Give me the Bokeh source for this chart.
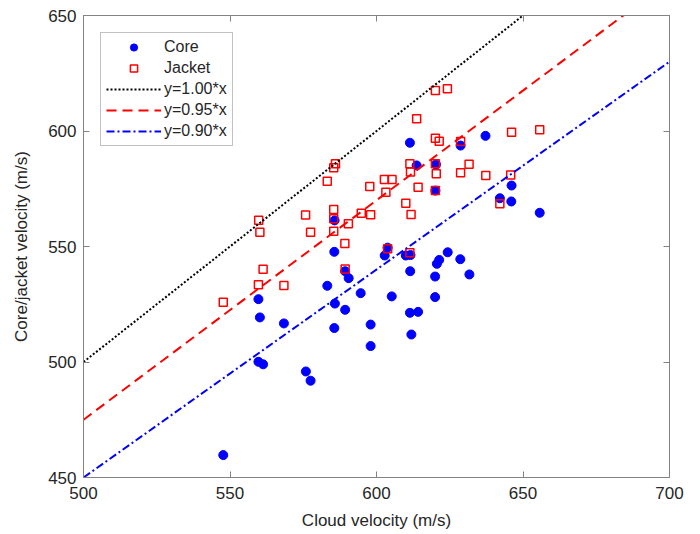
from bokeh.plotting import figure
from bokeh.models import LinearAxis, FixedTicker, Legend, LegendItem, Range1d, CustomJSTickFormatter
from bokeh.embed import file_html
from bokeh.resources import INLINE

# ---- data ----
core_x = [611.4, 613.7, 620.3, 620.1, 585.7, 585.6, 603.8, 602.8, 610.0, 611.6,
          624.3, 628.6, 621.4, 620.6, 611.5, 620.0, 620.0, 611.4, 614.2, 611.9,
          605.2, 594.6, 589.3, 585.8, 583.2, 589.3, 590.5, 585.6, 598.0, 598.0,
          575.9, 577.5, 559.7, 561.3, 568.4, 560.2, 559.7, 547.7, 637.2, 628.7,
          646.1, 642.1, 646.0, 655.7, 631.7]
core_y = [594.9, 585.1, 585.5, 574.2, 561.3, 547.7, 549.5, 546.1, 546.1, 546.3,
          547.5, 544.5, 544.2, 542.5, 539.3, 537.0, 528.1, 521.3, 521.7, 511.9,
          528.4, 529.8, 522.6, 525.3, 533.0, 539.3, 536.3, 514.7, 516.2, 506.9,
          495.9, 491.9, 500.1, 499.0, 516.7, 519.3, 527.2, 459.7, 597.9, 593.7,
          576.4, 570.9, 569.5, 564.6, 537.9]

jacket_x = [620.1, 624.2, 613.7, 620.1, 621.4, 628.7, 611.4, 611.6, 620.1, 620.4,
            620.1, 628.7, 586.0, 585.4, 583.2, 602.7, 605.3, 597.7, 603.2, 614.2,
            610.0, 611.8, 585.4, 585.4, 575.8, 594.8, 598.0, 590.4, 577.5, 585.4,
            589.2, 559.8, 560.2, 603.8, 611.4, 646.1, 655.7, 631.6, 637.3, 645.8,
            642.1, 589.3, 559.7, 561.3, 568.4, 547.7]
jacket_y = [617.5, 618.3, 605.3, 596.9, 595.6, 595.5, 585.8, 582.2, 585.8, 581.5,
            574.2, 581.9, 585.8, 584.1, 578.3, 579.0, 579.0, 576.0, 573.5, 575.7,
            568.7, 563.9, 566.0, 562.0, 563.6, 564.4, 563.7, 559.8, 556.2, 556.6,
            551.3, 561.4, 556.2, 549.0, 547.3, 599.5, 600.5, 585.6, 580.7, 581.0,
            568.5, 540.3, 533.4, 540.2, 533.1, 525.9]

ratios = [1.00, 0.95, 0.90]
ratio_labels = ["y=1.00*x", "y=0.95*x", "y=0.90*x"]
line_x = [500, 700]

x_ticks = [500, 550, 600, 650, 700]
y_ticks = [450, 500, 550, 600, 650]

FONT = "Liberation Sans"
AXIS_COLOR = "#838383"
TEXT_COLOR = "#262626"

p = figure(width=700, height=534,
           x_range=Range1d(500, 700), y_range=Range1d(450, 650),
           output_backend="svg", toolbar_location=None,
           min_border_left=83, min_border_right=31,
           min_border_top=15, min_border_bottom=57)
p.grid.visible = False
p.outline_line_color = AXIS_COLOR
p.outline_line_width = 1
p.background_fill_color = "white"
p.border_fill_color = "white"

def style_axis(ax, ticks, show_labels=True):
    ax.ticker = FixedTicker(ticks=ticks)
    ax.axis_line_color = AXIS_COLOR
    ax.axis_line_width = 1
    ax.major_tick_line_color = AXIS_COLOR
    ax.major_tick_in = 6
    ax.major_tick_out = 0
    ax.minor_tick_line_color = None
    ax.major_label_text_font = FONT
    ax.major_label_text_color = TEXT_COLOR
    ax.major_label_text_font_size = "17px"
    if not show_labels:
        ax.formatter = CustomJSTickFormatter(code="return '';")
        ax.major_label_standoff = 0

xa = p.xaxis[0]
ya = p.yaxis[0]
style_axis(xa, x_ticks)
style_axis(ya, y_ticks)
xa.major_label_standoff = 9
ya.major_label_standoff = 7
xa.axis_label = "Cloud velocity (m/s)"
ya.axis_label = "Core/jacket velocity (m/s)"
for ax in (xa, ya):
    ax.axis_label_text_font = FONT
    ax.axis_label_text_font_size = "17px"
    ax.axis_label_text_font_style = "normal"
    ax.axis_label_text_color = TEXT_COLOR
xa.axis_label_standoff = 9
ya.axis_label_standoff = 14

top_ax = LinearAxis()
right_ax = LinearAxis()
style_axis(top_ax, x_ticks, show_labels=False)
style_axis(right_ax, y_ticks, show_labels=False)
p.add_layout(top_ax, "above")
p.add_layout(right_ax, "right")

r_core = p.scatter(core_x, core_y, marker="circle", size=9,
                   fill_color="#0000ff", line_color="#0000ff")
r_jacket = p.scatter(jacket_x, jacket_y, marker="square", size=8,
                     fill_color=None, line_color="#ff0000", line_width=1.5)

line_styles = [("black", "2 2"), ("#ff0000", "10 6"), ("#0000ff", "8 3 2 3")]
line_renderers = []
for k, (col, dash) in zip(ratios, line_styles):
    r = p.line(line_x, [k * v for v in line_x], line_color=col,
               line_dash=dash, line_width=2)
    line_renderers.append(r)

items = [LegendItem(label="Core", renderers=[r_core]),
         LegendItem(label="Jacket", renderers=[r_jacket])]
for lab, r in zip(ratio_labels, line_renderers):
    items.append(LegendItem(label=lab, renderers=[r]))

legend = Legend(items=items, location="top_left", margin=17,
                glyph_width=55, glyph_height=18, label_height=18,
                spacing=3, padding=5, label_standoff=3,
                label_text_font=FONT, label_text_font_size="16px",
                label_text_color=TEXT_COLOR,
                border_line_color=AXIS_COLOR, border_line_width=1,
                background_fill_color="white", background_fill_alpha=1)
p.add_layout(legend)

open("out.html", "w").write(file_html(p, INLINE))
